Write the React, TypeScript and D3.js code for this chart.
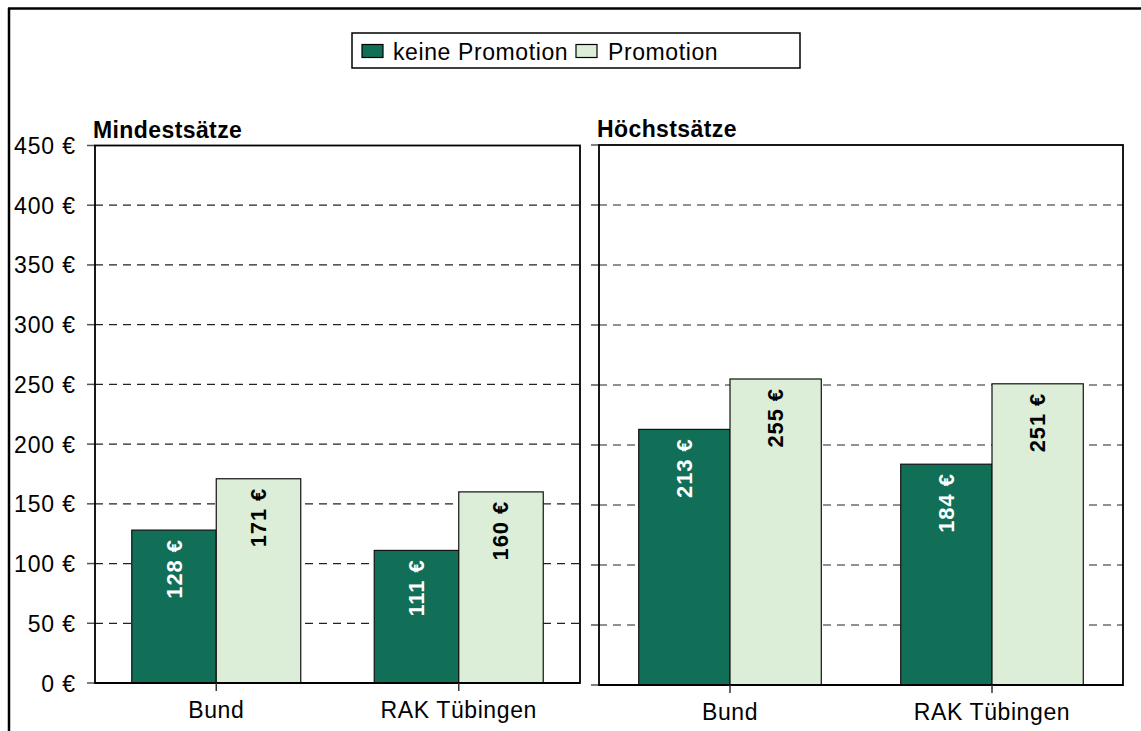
import React from "react";
import * as d3 from "d3";

const categories = ["Bund", "RAK Tübingen"];
const seriesNames = ["keine Promotion", "Promotion"];
const minKeine = [128, 111];
const minPromo = [171, 160];
const maxKeine = [213, 184];
const maxPromo = [255, 251];
const yTicks = [0, 50, 100, 150, 200, 250, 300, 350, 400, 450];
const panelTitles = ["Mindestsätze", "Höchstsätze"];

const DARK = "#116F57";
const LIGHT = "#DCEDD8";
const FONT = "Arial, 'Liberation Sans', sans-serif";

type PanelProps = {
  title: string;
  x0: number;
  x1: number;
  yTop: number;
  yBottom: number;
  a: number[];
  b: number[];
  showLabels: boolean;
};

function Panel({ title, x0, x1, yTop, yBottom, a, b, showLabels }: PanelProps) {
  const y = d3.scaleLinear().domain([0, 450]).range([yBottom, yTop]);
  const xc = d3.scaleBand<string>().domain(categories).range([x0, x1]).padding(0);
  const xs = d3
    .scaleBand<string>()
    .domain(seriesNames)
    .range([0, xc.bandwidth()])
    .paddingInner(0)
    .paddingOuter(0.435);
  const vals = [a, b];
  const fmt = (v: number) => `${v} €`;
  return (
    <g>
      <text x={x0 - 2} y={yTop - 8} fontFamily={FONT} fontSize={23} fontWeight="bold" letterSpacing={0.4}>
        {title}
      </text>
      {yTicks.map((t) => (
        <g key={t}>
          {t > 0 && t < 450 && (
            <line x1={x0} x2={x1} y1={y(t)} y2={y(t)} stroke="#222" strokeWidth={1.2} strokeDasharray="8,6" />
          )}
          <line x1={x0 - 8} x2={x0} y1={y(t)} y2={y(t)} stroke="#555" strokeWidth={1.5} />
          {showLabels && (
            <text x={x0 - 19} y={y(t) + 8.5} textAnchor="end" fontFamily={FONT} fontSize={23} letterSpacing={0.9}>
              {fmt(t)}
            </text>
          )}
        </g>
      ))}
      {categories.map((c, ci) =>
        seriesNames.map((s, si) => {
          const v = vals[si][ci];
          const bx = (xc(c) as number) + (xs(s) as number);
          const bw = xs.bandwidth();
          const cx = bx + bw / 2;
          return (
            <g key={c + s}>
              <rect
                x={bx}
                y={y(v)}
                width={bw}
                height={yBottom - y(v)}
                fill={si === 0 ? DARK : LIGHT}
                stroke="#111"
                strokeWidth={1.2}
              />
              <text
                transform={`translate(${cx},${y(v) + 9}) rotate(-90)`}
                textAnchor="end"
                dominantBaseline="central"
                fontFamily={FONT}
                fontSize={22}
                fontWeight="bold"
                letterSpacing={0.9}
                fill={si === 0 ? "#fff" : "#000"}
              >
                {fmt(v)}
              </text>
            </g>
          );
        })
      )}
      <rect x={x0} y={yTop} width={x1 - x0} height={yBottom - yTop} fill="none" stroke="#000" strokeWidth={1.8} />
      <line x1={x0} x2={x1} y1={yBottom} y2={yBottom} stroke="#000" strokeWidth={2.2} />
      {categories.map((c) => {
        const cx = (xc(c) as number) + xc.bandwidth() / 2;
        return (
          <g key={c}>
            <line x1={cx} x2={cx} y1={yBottom} y2={yBottom + 8} stroke="#333" strokeWidth={1.5} />
            <text x={cx} y={yBottom + 35} textAnchor="middle" fontFamily={FONT} fontSize={23} letterSpacing={0.6}>
              {c}
            </text>
          </g>
        );
      })}
    </g>
  );
}

export default function App() {
  const legendX = 352;
  const legendY = 33;
  return (
    <svg
      width={1141}
      height={731}
      style={{ position: "absolute", left: 0, top: 0, background: "#fff" }}
    >
      <rect x={0} y={0} width={1141} height={731} fill="#fff" />
      <line x1={8} x2={1141} y1={8.5} y2={8.5} stroke="#000" strokeWidth={2.5} />
      <line x1={9} x2={9} y1={8} y2={731} stroke="#000" strokeWidth={2.5} />

      <rect x={legendX} y={legendY} width={448} height={35} fill="#fff" stroke="#000" strokeWidth={1.5} />
      <rect x={362} y={44.5} width={21} height={13} fill={DARK} stroke="#000" strokeWidth={1.2} />
      <text x={393} y={59.5} fontFamily={FONT} fontSize={23} letterSpacing={0.6}>
        {seriesNames[0]}
      </text>
      <rect x={576} y={44.5} width={21} height={13} fill={LIGHT} stroke="#000" strokeWidth={1.2} />
      <text x={608} y={59.5} fontFamily={FONT} fontSize={23} letterSpacing={0.6}>
        {seriesNames[1]}
      </text>

      <Panel title={panelTitles[0]} x0={95} x1={580} yTop={145.5} yBottom={683} a={minKeine} b={minPromo} showLabels={true} />
      <Panel title={panelTitles[1]} x0={599} x1={1123} yTop={145} yBottom={685} a={maxKeine} b={maxPromo} showLabels={false} />
    </svg>
  );
}
